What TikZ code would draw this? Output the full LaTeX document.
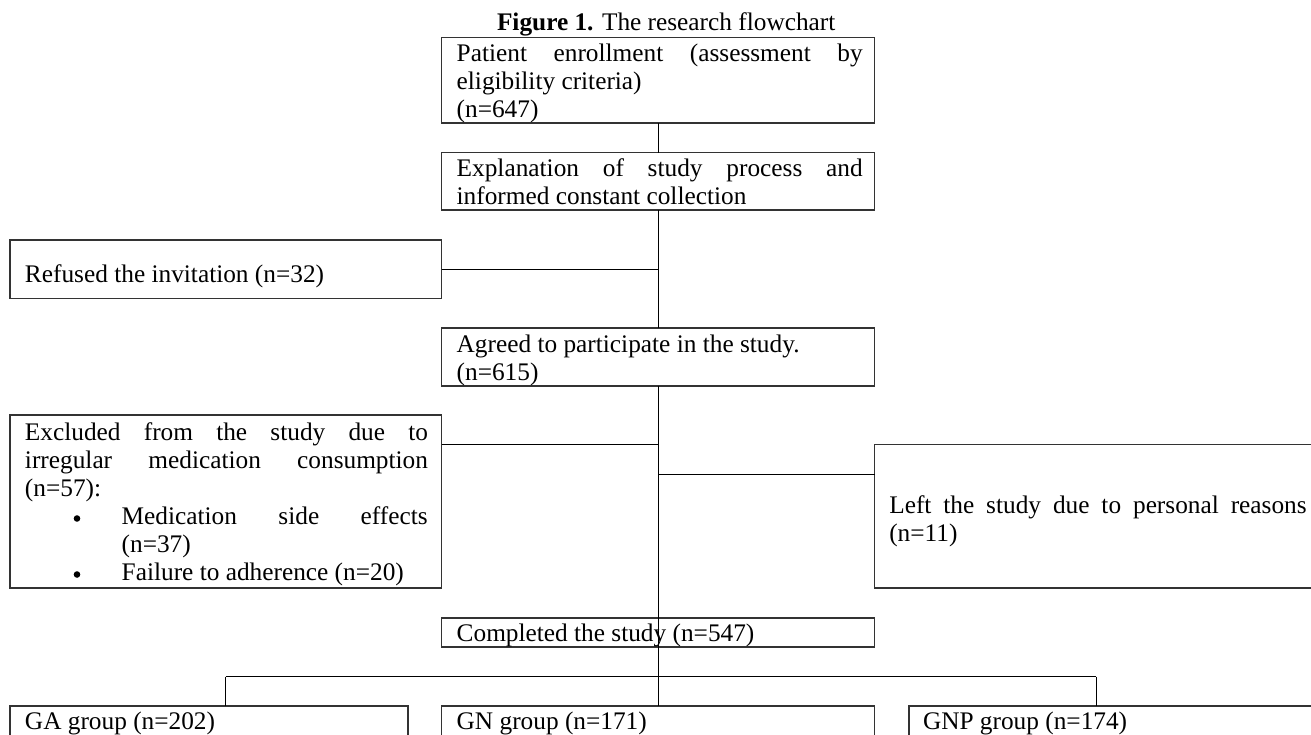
\documentclass[tikz,border=0pt]{standalone}
\usepackage{fontspec}
\setmainfont{Liberation Serif}
\begin{document}
\begin{tikzpicture}[x=0.5pt,y=-0.5pt,
  boxnode/.style={draw=black!80,line width=0.7pt,inner sep=0pt,outer sep=0pt,anchor=north west,minimum width=216.5pt},
  txt/.style={anchor=base west,inner sep=0pt,outer sep=0pt,font=\fontsize{12.66pt}{14.1pt}\selectfont},
  bulletdot/.style={circle,fill=black,draw=none,inner sep=0pt,minimum size=3.3pt},
  link/.style={draw=black,line width=0.5pt}]
\clip (0,0) rectangle (1311,734);
% title
\node[txt] (title) at (497,30) {\textbf{Figure 1.} The research flowchart};
% boxes
\node[boxnode,minimum height=42.75pt] (b1) at (441.5,37.5) {};
\node[boxnode,minimum height=28.7pt] (b2) at (441.5,152.6) {};
\node[boxnode,minimum width=215.75pt,minimum height=29.25pt] (ref) at (10,240) {};
\node[boxnode,minimum height=28.9pt] (agr) at (441.5,328) {};
\node[boxnode,minimum width=215.75pt,minimum height=86.5pt] (exc) at (10,415) {};
\node[boxnode,minimum width=222.75pt,minimum height=71.75pt] (left) at (874.5,444.5) {};
\node[boxnode,minimum height=14.5pt] (comp) at (441.5,618) {};
\node[boxnode,minimum width=199pt,minimum height=30pt] (ga) at (10,706) {};
\node[boxnode,minimum height=30pt] (gn) at (441.5,706) {};
\node[boxnode,minimum width=210pt,minimum height=30pt] (gnp) at (909,706) {};
% texts
\node[txt] (t1a) at (456.7,61.7) {\makebox[203pt][s]{Patient enrollment (assessment by}};
\node[txt] (t1b) at (456.7,89.8) {eligibility criteria)};
\node[txt] (t1c) at (456.7,117.9) {(n=647)};
\node[txt] (t2a) at (456.7,176.3) {\makebox[203pt][s]{Explanation of study process and}};
\node[txt] (t2b) at (456.7,204.3) {informed constant collection};
\node[txt] (tref) at (25,282) {Refused the invitation (n=32)};
\node[txt] (tagra) at (456.7,352) {Agreed to participate in the study.};
\node[txt] (tagrb) at (456.7,380) {(n=615)};
\node[txt] (texa) at (25,440) {\makebox[201.5pt][s]{Excluded from the study due to}};
\node[txt] (texb) at (25,468) {\makebox[201.5pt][s]{irregular medication consumption}};
\node[txt] (texc) at (25,496) {(n=57):};
\node[bulletdot] (bul1) at (77,518.5) {};
\node[txt] (texd) at (121.7,524) {\makebox[153pt][s]{Medication side effects}};
\node[txt] (texe) at (121.7,552) {(n=37)};
\node[bulletdot] (bul2) at (77,574.5) {};
\node[txt] (texf) at (121.7,580) {Failure to adherence (n=20)};
\node[txt] (tlefta) at (889.3,513) {\makebox[208.7pt][s]{Left the study due to personal reasons}};
\node[txt] (tleftb) at (889.3,541) {(n=11)};
\node[txt] (tcomp) at (456.7,641.7) {Completed the study (n=547)};
\node[txt] (tga) at (25,729) {GA group (n=202)};
\node[txt] (tgn) at (456.7,729) {GN group (n=171)};
\node[txt] (tgnp) at (923,729) {GNP group (n=174)};
% connectors
\coordinate (barL) at (225.8,676.7);
\coordinate (barR) at (1096,676.7);
\coordinate (excj) at ([yshift=-14.75pt]exc.north east);
\coordinate (leftj) at ([yshift=-15pt]left.north west);
\draw[link] (b1.south) -- (b2.north);
\draw[link] (b2.south) -- (agr.north);
\draw[link] (ref.east) -- (ref.east -| b2.south);
\draw[link] (agr.south) -- (agr.south |- barL);
\draw[link] (excj) -- (excj -| agr.south);
\draw[link] (leftj -| agr.south) -- (leftj);
\draw[link] (barL) -- (barR);
\draw[link] (barL) -- (barL |- ga.north);
\draw[link] (barR) -- (barR |- gnp.north);
\draw[link] (agr.south |- barL) -- (gn.north);
\end{tikzpicture}
\end{document}
